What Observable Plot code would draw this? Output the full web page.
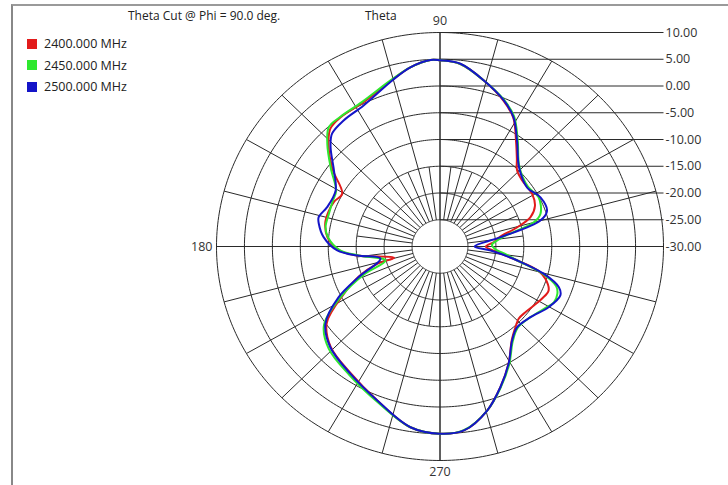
<!DOCTYPE html>
<html><head><meta charset="utf-8">
<script src="https://cdn.jsdelivr.net/npm/d3@7"></script>
<script src="https://cdn.jsdelivr.net/npm/@observablehq/plot@0.6"></script>
<style>
body{margin:0;background:#fff;}
#wrap{position:relative;width:728px;height:485px;overflow:hidden;font-family:"Open Sans",sans-serif;color:#222;}
#frame{position:absolute;left:11px;top:4px;width:740px;height:500px;border-top:2px solid #9a9a9a;border-left:2px solid #888;}
#title{position:absolute;left:128px;top:7px;font-size:12px;white-space:nowrap;}
#theta{position:absolute;left:365px;top:7px;font-size:12px;}
.leg{position:absolute;left:27px;font-size:12.5px;display:flex;align-items:center;white-space:nowrap;}
.sw{width:10px;height:10px;margin-right:7px;}
#chart{position:absolute;left:0;top:0;}
</style></head>
<body>
<div id="wrap">
  <div id="frame"></div>
  <div id="chart"></div>
  <div id="title"></div>
  <div id="theta"></div>
  <div id="legend"></div>
</div>
<script>
// ---- chart values ----
const titleText = "Theta Cut @ Phi = 90.0 deg.";
const axisName = "Theta";
const seriesNames = ["2400.000 MHz", "2450.000 MHz", "2500.000 MHz"];
const seriesColors = ["#e21b1b", "#2ee82e", "#1414c8"];
const minDb = -30, maxDb = 10;
const ringDb = [-25, -20, -15, -10, -5, 0, 5, 10];
const tickDb = [10, 5, 0, -5, -10, -15, -20, -25, -30];
const tickLabels = ["10.00", "5.00", "0.00", "-5.00", "-10.00", "-15.00", "-20.00", "-25.00", "-30.00"];
const angleLabels = [90, 180, 270];
const spokeMajor = d3.range(0, 360, 15);
const spokeMinor = d3.range(7.5, 360, 15);

// [theta (deg), gain (dB)]
const gain2400 = [[0,-21.8],[5,-20.3],[9.1,-19.3],[14.6,-15.7],[18.7,-12.9],[24,-11.4],[30.8,-10.8],[40,-10.8],[45.8,-10.2],[50,-8.6],[55.1,-6.2],[61.4,-2.6],[67.3,-0.5],[75.8,2.0],[83.9,4.3],[90,4.8],[92.8,4.9],[99,3.9],[105.4,2.3],[117.4,0.2],[126.2,0.0],[131.7,-0.5],[136.5,-2.5],[143.2,-6.0],[150.6,-9.9],[156,-9.3],[162,-9.0],[168,-9.0],[175.2,-9.8],[182.3,-12.0],[186.5,-15.0],[194.3,-21.5],[196.1,-18.3],[201,-14.5],[207.2,-10.65],[215.2,-5.2],[223.8,-2.9],[236.1,-1.4],[248.7,0.9],[261.1,4.2],[270,5.0],[277.1,4.65],[285.4,1.8],[292.4,-1.6],[299.3,-4.9],[306.3,-8.3],[312.5,-9.9],[316.2,-10.5],[321,-10.4],[326.7,-9.9],[332,-9.3],[337.1,-8.9],[342.3,-10.2],[345.5,-11.8],[349.3,-15.9],[355.3,-20.4]];
const gain2450 = [[2,-20.7],[6.2,-19.7],[9.1,-18.6],[15.1,-12.6],[18.8,-11.0],[27.5,-10.1],[35.4,-10.7],[46.4,-9.4],[55.1,-5.7],[61.4,-2.3],[67.3,-0.3],[75.8,2.0],[83.9,4.3],[90,4.8],[92.8,4.9],[99,3.9],[105.4,2.4],[117.4,0.4],[126.2,0.1],[131.7,-0.1],[136.5,-2.2],[143.2,-5.6],[150.8,-8.7],[156,-9.0],[162.9,-9.2],[170,-9.2],[175.2,-9.9],[182.3,-12.1],[186.5,-15.3],[195,-19.9],[201,-15.5],[207.6,-10.2],[215.2,-4.6],[223.8,-2.4],[236.1,-1.0],[248.7,1.1],[261.1,4.2],[270,5.0],[277.1,4.6],[285.4,1.8],[292.4,-1.5],[299.3,-4.7],[306.3,-8.0],[312.5,-9.4],[320.8,-9.1],[329.7,-7.7],[332.9,-7.1],[337.1,-7.2],[340.3,-7.9],[344.6,-11.0],[349.3,-15.9],[352.8,-18.0],[357.5,-20.2]];
const gain2500 = [[0,-23.8],[9.1,-19.0],[15.1,-11.4],[19.3,-9.7],[27.1,-9.8],[35.4,-10.9],[46.4,-9.5],[55.1,-5.9],[61.4,-2.5],[67.3,-0.4],[75.8,2.0],[83.9,4.35],[90,4.8],[92.8,4.9],[99,3.9],[105.4,2.2],[117.4,-0.3],[126.2,-0.8],[132.5,-1.4],[136.5,-3.0],[143.2,-6.3],[150.8,-8.6],[160,-8.5],[165.8,-7.6],[168.9,-7.9],[175.2,-9.1],[182.3,-11.6],[186.5,-15.1],[191.9,-19.1],[201.5,-14.3],[207.6,-9.5],[215.2,-4.9],[223.8,-2.8],[236.1,-1.3],[248.7,0.9],[261.1,4.2],[270,5.0],[277.1,4.65],[285.4,1.8],[292.4,-1.6],[299.3,-4.9],[306.3,-8.2],[312.5,-9.55],[320.8,-9.1],[329.7,-7.5],[337,-6.6],[340.3,-7.4],[344.6,-10.7],[349.3,-15.9],[355.3,-20.9]];
const allSeries = [gain2400, gain2450, gain2500];

// ---- helpers ----
const span = maxDb - minDb;
const rad = a => a * Math.PI / 180;
const px = (a, db) => (db - minDb) * Math.cos(rad(a));
const py = (a, db) => (db - minDb) * Math.sin(rad(a));

const ringPts = ringDb.flatMap(r => d3.range(0, 361, 1).map(a => ({ring: r, x: px(a, r), y: py(a, r)})));
const spokes = [
  ...spokeMajor.map(a => ({a, r1: ringDb[0], r2: maxDb})),
  ...spokeMinor.map(a => ({a, r1: ringDb[0], r2: -15}))
];
const gridColor = "#2a2a2a";

const curveMarks = allSeries.map((s, i) => Plot.line(s, {
  x: d => px(d[0], d[1]), y: d => py(d[0], d[1]),
  stroke: seriesColors[i], strokeWidth: 2, curve: "catmull-rom-closed"
}));

const chart = Plot.plot({
  width: 728, height: 485,
  marginLeft: 216, marginRight: 65, marginTop: 32, marginBottom: 25,
  x: {domain: [-span, span], axis: null},
  y: {domain: [-span, span], axis: null},
  style: {background: "transparent", fontFamily: "Open Sans, sans-serif", fontSize: "12px", color: "#333"},
  marks: [
    Plot.line(ringPts, {x: "x", y: "y", z: "ring", stroke: gridColor, strokeWidth: 1}),
    Plot.link(spokes, {x1: d => px(d.a, d.r1), y1: d => py(d.a, d.r1), x2: d => px(d.a, d.r2), y2: d => py(d.a, d.r2), stroke: gridColor, strokeWidth: 1}),
    Plot.ruleY([0], {stroke: gridColor}),
    Plot.ruleX([0], {stroke: gridColor}),
    Plot.link(tickDb, {x1: () => 0, x2: () => span, y1: d => d - minDb, y2: d => d - minDb, stroke: gridColor, strokeWidth: 1}),
    Plot.text(tickDb, {x: () => span, y: d => d - minDb, text: (d, i) => tickLabels[i], textAnchor: "start", dx: 2, fontSize: 12.5, fill: "#333"}),
    Plot.text(angleLabels.filter(a => a === 90), {x: a => px(a, maxDb), y: a => py(a, maxDb), text: a => String(a), dy: -12, fontSize: 12.5, fill: "#333"}),
    Plot.text(angleLabels.filter(a => a === 270), {x: a => px(a, maxDb), y: a => py(a, maxDb), text: a => String(a), dy: 11, fontSize: 12.5, fill: "#333"}),
    Plot.text(angleLabels.filter(a => a === 180), {x: a => px(a, maxDb), y: a => py(a, maxDb), text: a => String(a), textAnchor: "end", dx: -4, fontSize: 12.5, fill: "#333"}),
    ...curveMarks
  ]
});
document.getElementById("chart").appendChild(chart);

document.getElementById("title").textContent = titleText;
document.getElementById("theta").textContent = axisName;
const legend = document.getElementById("legend");
seriesNames.forEach((n, i) => {
  const row = document.createElement("div");
  row.className = "leg";
  row.style.top = (35 + i * 21.5) + "px";
  const sw = document.createElement("span");
  sw.className = "sw"; sw.style.background = seriesColors[i];
  const t = document.createElement("span");
  t.textContent = n;
  row.appendChild(sw); row.appendChild(t);
  legend.appendChild(row);
});
</script>
</body></html>
